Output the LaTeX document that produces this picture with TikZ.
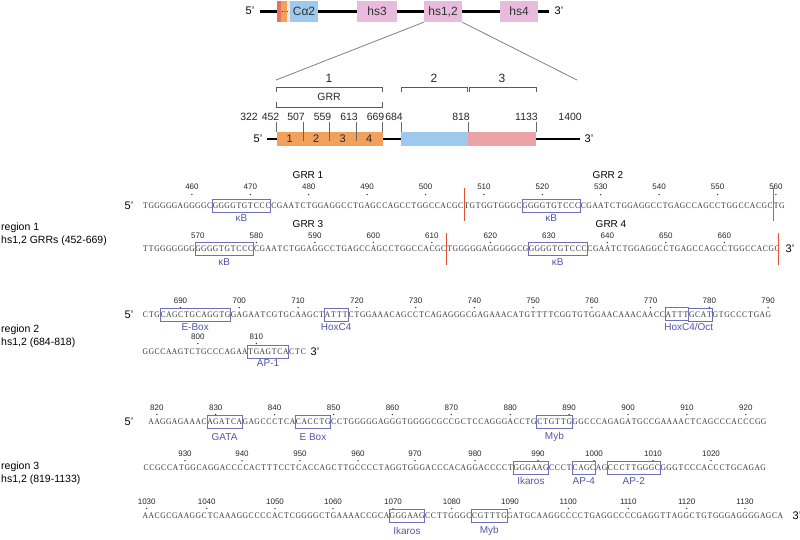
\documentclass[tikz,border=0pt]{standalone}
\usepackage{fontspec}
\setmainfont{Liberation Sans}
\newfontfamily\seqfont[FakeStretch=0.88]{Liberation Serif}
\definecolor{hspink}{HTML}{E8BADB}
\definecolor{bluebox}{HTML}{9DC9EE}
\definecolor{orangebox}{HTML}{F2A15C}
\definecolor{pinkbar}{HTML}{EBA3A6}
\definecolor{redstripe}{HTML}{E8705E}
\definecolor{palestripe}{HTML}{F6E6D6}
\definecolor{grrred}{RGB}{228,80,50}
\definecolor{tfblue}{HTML}{5555A8}
\definecolor{tfboxcol}{HTML}{7070B8}
\definecolor{seqgrey}{HTML}{333333}
\newlength\seqcw
\makeatletter
\def\seqchars#1{\seqch@r#1\relax}
\def\seqch@r#1{\ifx#1\relax\else\makebox[\seqcw]{#1}\expandafter\seqch@r\fi}
\makeatother
\tikzset{
 seqtext/.style={font=\seqfont\fontsize{8.6}{9}\selectfont, text=seqgrey, inner sep=0pt, anchor=west},
 numlab/.style={font=\fontsize{8}{9}\selectfont, text=black!85, inner sep=0pt},
 tflabel/.style={font=\fontsize{10}{11}\selectfont, text=tfblue, inner sep=0pt},
 tfframe/.style={draw=tfboxcol, line width=0.6pt},
 grrlab/.style={font=\fontsize{10}{11}\selectfont, inner sep=0pt},
 endlab/.style={font=\fontsize{11}{12}\selectfont, inner sep=0pt},
 reglab/.style={font=\fontsize{10.5}{12}\selectfont, inner sep=0pt, anchor=west},
 grrsep/.style={draw=grrred, line width=1.2pt},
 brk/.style={draw=black!65, line width=0.7pt},
 tick/.style={draw=black!60, line width=0.6pt},
 maplab/.style={font=\fontsize{10.5}{12}\selectfont, inner sep=0pt, text=black!85},
 hsbox/.style={fill=hspink, inner sep=0pt, minimum height=21pt, font=\fontsize{12}{13}\selectfont, text=black!80},
 segbox/.style={inner sep=0pt, minimum height=14pt, font=\fontsize{11}{12}\selectfont, text=black!85},
 zoomline/.style={draw=black!50, line width=0.8pt},
 dotmark/.style={fill=black!80},
}
\newcommand\seqrow[5]{\node[seqtext] (#1) at (#2,#3) {\setlength\seqcw{#4pt}\seqchars{#5}};}
\newcommand\tfb[8]{%
  \draw[tfframe] ({#2+#5*#3},{#4-6.5}) rectangle ({#2+(#5+#6)*#3},{#4+6});
  \node[tflabel] (#1) at ({#2+(#5+#6/2)*#3},#7) {#8};}
\begin{document}
\begin{tikzpicture}[x=1pt,y=-1pt]
\useasboundingbox (0,0) rectangle (800,539);
% ---------------- top locus ----------------
\node[endlab] (top5) at (250,11) {5'};
\node[endlab] (top3) at (559,11) {3'};
\coordinate (tl) at (260,11);
\coordinate (tr) at (549,11);
\draw[line width=3pt] (tl) -- (tr);
\fill[redstripe] (277,1) rectangle (281,22);
\fill[orangebox] (281,1) rectangle (287,22);
\fill[palestripe] (287,1) rectangle (290,22);
\foreach \d in {282.5,285,287.5} \fill[black!70] (\d,11.5) circle[radius=0.6pt];
\node[hsbox, fill=bluebox, minimum width=28pt] (ca2) at (304,11.5) {Cα2};
\node[hsbox, minimum width=40pt] (hs3) at (377,11.5) {hs3};
\node[hsbox, minimum width=38pt] (hs12) at (443,11.5) {hs1,2};
\node[hsbox, minimum width=38pt] (hs4) at (519,11.5) {hs4};
\coordinate (zl) at (276,80);
\coordinate (zr) at (577,80);
\draw[zoomline] (hs12.south west) -- (zl);
\draw[zoomline] (hs12.south east) -- (zr);
% ---------------- map ----------------
\node[endlab] (m5) at (258,139) {5'};
\node[endlab] (m3) at (589,139) {3'};
\coordinate (ml) at (267,139);
\coordinate (mr) at (580,139);
\draw[line width=2.6pt] (ml) -- (mr);
\node[segbox, fill=orangebox, minimum width=26.5pt] (g1) at (289.75,139) {1};
\node[segbox, fill=orangebox, minimum width=26.5pt] (g2) at (316.25,139) {2};
\node[segbox, fill=orangebox, minimum width=26.5pt] (g3) at (342.75,139) {3};
\node[segbox, fill=orangebox, minimum width=26.5pt] (g4) at (369.25,139) {4};
\node[segbox, fill=bluebox, minimum width=67pt] (reg2) at (434.5,139) {};
\node[segbox, fill=pinkbar, minimum width=68pt] (reg3) at (502,139) {};
\foreach \x in {303,329.5,356} \draw[tick] (\x,122) -- (\x,141);
\foreach \x in {276.5,382.5,401,468,536} \draw[tick] (\x,122) -- (\x,132);
\foreach \t/\x in {322/258,452/279.5,507/305,559/331.5,613/358,669/384.5,684/403,818/470,1133/538,1400/582}
  \node[maplab, anchor=east] (ml\t) at (\x,117) {\t};
\draw[brk] (276.5,92) -- (276.5,87) -- (382.5,87) -- (382.5,92);
\draw[brk] (401,92) -- (401,87) -- (467,87) -- (467,92);
\draw[brk] (469,92) -- (469,87) -- (536,87) -- (536,92);
\draw[brk] (276.5,102) -- (276.5,107) -- (382.5,107) -- (382.5,102);
\node[maplab, font=\fontsize{12}{13}\selectfont] (b1) at (329,78) {1};
\node[maplab, font=\fontsize{12}{13}\selectfont] (b2) at (434,78) {2};
\node[maplab, font=\fontsize{12}{13}\selectfont] (b3) at (502,78) {3};
\node[maplab] (bgrr) at (329,97) {GRR};
% ---------------- region labels ----------------
\node[reglab] (rl1a) at (1,228) {region 1};
\node[reglab] (rl1b) at (1,241) {hs1,2 GRRs (452-669)};
\node[reglab] (rl2a) at (1,330) {region 2};
\node[reglab] (rl2b) at (1,343) {hs1,2 (684-818)};
\node[reglab] (rl3a) at (1,467) {region 3};
\node[reglab] (rl3b) at (1,480) {hs1,2 (819-1133)};
% ---------------- region 1 ----------------
\node[endlab] (s1five) at (129,206) {5'};
\node[grrlab] (grr1) at (308,175) {GRR 1};
\node[grrlab] (grr2) at (608,175) {GRR 2};
\node[grrlab] (grr3) at (308,224) {GRR 3};
\node[grrlab] (grr4) at (611,224) {GRR 4};
\foreach \n in {460,470,...,560}{
  \pgfmathsetmacro\xx{142.3+(\n-452+0.5)*5.84}
  \node[numlab] (p\n) at (\xx,187) {\n};
  \fill[dotmark] (\xx,194.5) circle[radius=0.75pt];}
\seqrow{s1}{142.3}{206}{5.84}{TGGGGGAGGGGCGGGGTGTCCCCGAATCTGGAGGCCTGAGCCAGCCTGGCCACGCTGTGGTGGGCGGGGTGTCCCCGAATCTGGAGGCCTGAGCCAGCCTGGCCACGCTG}
\tfb{kb1}{142.3}{5.84}{206}{12}{10}{218}{κB}
\tfb{kb2}{142.3}{5.84}{206}{65}{10}{218}{κB}
\foreach \n in {570,580,...,660}{
  \pgfmathsetmacro\xx{142.3+(\n-561+0.5)*5.85}
  \node[numlab] (p\n) at (\xx,236) {\n};
  \fill[dotmark] (\xx,242.5) circle[radius=0.75pt];}
\seqrow{s2}{142.3}{249}{5.85}{TTGGGGGGGGGGGTGTCCCCGAATCTGGAGGCCTGAGCCAGCCTGGCCACGCTGGGGGAGGGGGCGGGGGTGTCCCCGAATCTGGAGGCCTGAGCCAGCCTGGCCACGC}
\tfb{kb3}{142.3}{5.85}{249}{9}{10}{262}{κB}
\tfb{kb4}{142.3}{5.85}{249}{66}{10}{262}{κB}
\node[endlab] (s2three) at (790,249) {3'};
% ---------------- region 2 ----------------
\node[endlab] (s3five) at (129,315) {5'};
\foreach \n in {690,700,...,790}{
  \pgfmathsetmacro\xx{142.3+(\n-684+0.5)*5.876}
  \node[numlab] (p\n) at (\xx,301) {\n};
  \fill[dotmark] (\xx,307.5) circle[radius=0.75pt];}
\seqrow{s3}{142.3}{315}{5.876}{CTGCAGCTGCAGGTGGAGAATCGTGCAAGCTATTTCTGGAAACAGCCTCAGAGGGCGAGAAACATGTTTTCGGTGTGGAACAAACAACCATTTGCATGTGCCCTGAG}
\tfb{ebox1}{142.3}{5.876}{315}{3}{12}{327}{E-Box}
\tfb{hox1}{142.3}{5.876}{315}{31}{4}{327}{HoxC4}
\draw[tfframe] ({142.3+89*5.876},{315-7.5}) rectangle ({142.3+93*5.876},{315+5.5});
\tfb{hoxoct}{142.3}{5.876}{315}{93}{4}{327}{}
\node[tflabel] (hoxoctlab) at ({142.3+93*5.876},327) {HoxC4/Oct};
\foreach \n in {800,810}{
  \pgfmathsetmacro\xx{142.3+(\n-791+0.5)*5.85}
  \node[numlab] (p\n) at (\xx,337) {\n};
  \fill[dotmark] (\xx,343.5) circle[radius=0.75pt];}
\seqrow{s4}{142.3}{352}{5.85}{GGCCAAGTCTGCCCAGAATGAGTCACTC}
\tfb{ap1}{142.3}{5.85}{352}{18}{7}{363}{AP-1}
\node[endlab] (s4three) at (315,352) {3'};
% ---------------- region 3 ----------------
\node[endlab] (s5five) at (129,422) {5'};
\foreach \n in {820,830,...,920}{
  \pgfmathsetmacro\xx{148+(\n-819+0.5)*5.89}
  \node[numlab] (p\n) at (\xx,408) {\n};
  \fill[dotmark] (\xx,414.5) circle[radius=0.75pt];}
\seqrow{s5}{148}{422}{5.89}{AAGGAGAAACAGATCAGAGCCCTCACACCTGCCTGGGGGAGGGTGGGGCGCCGCTCCAGGGACCTGCTGTTGGGCCCAGAGATGCCGAAAACTCAGCCCACCCGG}
\tfb{gata}{148}{5.89}{422}{10}{6}{437}{GATA}
\tfb{ebox2}{148}{5.89}{422}{25}{6}{437}{E Box}
\tfb{myb1}{148}{5.89}{422}{66}{6}{437}{Myb}
\foreach \n/\xx in {930/185,940/242,950/300,960/358,970/415,980/475,990/538,1000/594,1010/653,1020/711}{
  \node[numlab] (p\n) at (\xx,454) {\n};
  \fill[dotmark] (\xx,460.5) circle[radius=0.75pt];}
\seqrow{s6}{143}{468}{5.877}{CCGCCATGGCAGGACCCCACTTTCCTCACCAGCTTGCCCCTAGGTGGGACCCACAGGACCCCTGGGAAGCCCTCAGCAGCCCTTGGGCGGGTCCCACCCTGCAGAG}
\tfb{ik1}{143}{5.877}{468}{63}{6}{481}{Ikaros}
\tfb{ap4}{143}{5.877}{468}{73}{4}{481}{AP-4}
\tfb{ap2}{143}{5.877}{468}{79}{9}{481}{AP-2}
\foreach \n/\xx in {1030/146.7,1040/206.7,1050/275,1060/333,1070/393,1080/451.7,1090/510,1100/568.3,1110/628.3,1120/686.7,1130/745}{
  \node[numlab] (p\n) at (\xx,502) {\n};
  \fill[dotmark] (\xx,508.5) circle[radius=0.75pt];}
\seqrow{s7}{142.3}{516}{5.88}{AACGCGAAGGCTCAAAGGCCCCACTCGGGGCTGAAAACCGCAGGGAAGCCTTGGGCCGTTTGGATGCAAGGCCCCTGAGGCCCCGAGGTTAGGCTGTGGGAGGGGAGCA}
\tfb{ik2}{142.3}{5.88}{516}{42}{6}{531}{Ikaros}
\tfb{myb2}{142.3}{5.88}{516}{56}{6}{531}{Myb}
\node[endlab] (s7three) at (797,516) {3'};
% ---------------- GRR separators (on top) ----------------
\draw[grrsep] (464.2,188) -- (464.2,221);
\draw[grrsep] (773.2,188) -- (773.2,221);
\draw[grrsep] (446.8,233) -- (446.8,265);
\draw[grrsep] (778.2,233) -- (778.2,265);
\end{tikzpicture}
\end{document}
